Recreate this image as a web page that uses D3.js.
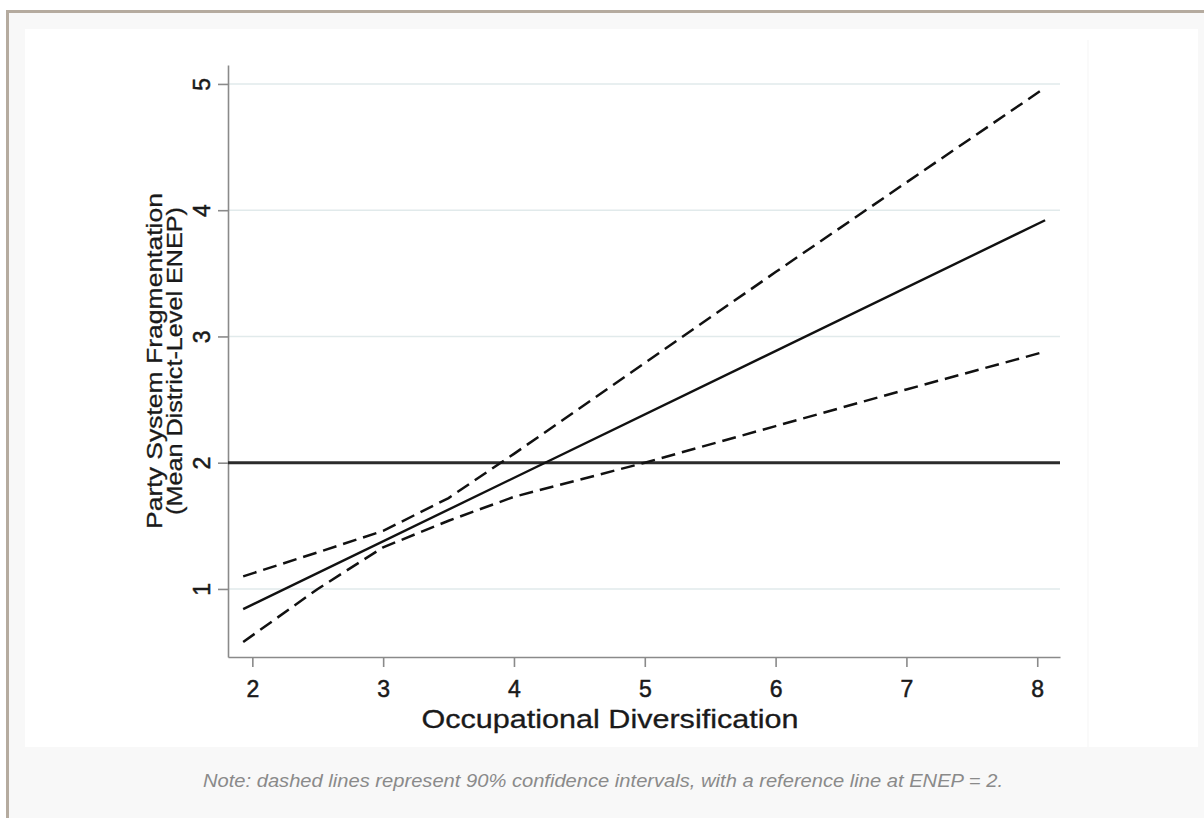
<!DOCTYPE html>
<html>
<head>
<meta charset="utf-8">
<script src="https://cdn.jsdelivr.net/npm/d3@7/dist/d3.min.js"></script>
<style>
  html, body { margin: 0; padding: 0; background: #ffffff; }
  svg { display: block; }
  text { font-family: "Liberation Sans", Arial, Helvetica, sans-serif; }
</style>
</head>
<body>
<svg id="chart" width="1204" height="818"></svg>
<script>
// ---- data ----
const xTicks = [2, 3, 4, 5, 6, 7, 8];
const yTicks = [1, 2, 3, 4, 5];
const predX = [1.93, 8.06];
const predY = [0.84, 3.92];
const ciX = [1.93, 2.5, 3.0, 3.5, 4.0, 5.0, 6.0, 7.0, 8.06];
const ciUpper = [1.10, 1.29, 1.46, 1.72, 2.07, 2.79, 3.51, 4.22, 4.97];
const ciLower = [0.58, 1.00, 1.33, 1.54, 1.73, 2.00, 2.29, 2.58, 2.88];
const refValue = 2;
const xTitle = "Occupational Diversification";
const yTitle1 = "Party System Fragmentation";
const yTitle2 = "(Mean District-Level ENEP)";
const note = "Note: dashed lines represent 90% confidence intervals, with a reference line at ENEP = 2.";

const svg = d3.select("#chart");

// page frame
svg.append("rect").attr("x", 0).attr("y", 0).attr("width", 1204).attr("height", 818).attr("fill", "#ffffff");
svg.append("rect").attr("x", 6).attr("y", 10).attr("width", 1204).attr("height", 820).attr("fill", "#b5ab9f");
svg.append("rect").attr("x", 9).attr("y", 13).attr("width", 1204).attr("height", 820).attr("fill", "#f8f8f8");
svg.append("rect").attr("x", 25).attr("y", 29).attr("width", 1173).attr("height", 718).attr("fill", "#ffffff");
svg.append("line").attr("x1", 1088).attr("x2", 1088).attr("y1", 40).attr("y2", 747)
  .attr("stroke", "#f9f9f9").attr("stroke-width", 1.5);

// scales (domains include the axis padding Stata draws)
const x = d3.scaleLinear().domain([1.814, 8.174]).range([228, 1060]);
const y = d3.scaleLinear().domain([0.461, 5.15]).range([657, 65]);

const g = svg.append("g");

// gridlines
g.selectAll(".grid").data(yTicks).enter().append("line")
  .attr("x1", x.range()[0]).attr("x2", x.range()[1])
  .attr("y1", d => y(d)).attr("y2", d => y(d))
  .attr("stroke", "#e1eaeb").attr("stroke-width", 1.5);

// axes
const axisColor = "#8a8a8a";
const xAxis = g.append("g").attr("transform", `translate(0,${y.range()[0]})`)
  .call(d3.axisBottom(x).tickValues(xTicks).tickSizeOuter(0).tickSizeInner(10).tickFormat(d3.format("d")));
const yAxis = g.append("g").attr("transform", `translate(${x.range()[0]},0)`)
  .call(d3.axisLeft(y).tickValues(yTicks).tickSizeOuter(0).tickSizeInner(10).tickFormat(d3.format("d")));

[xAxis, yAxis].forEach(a => {
  a.select(".domain").attr("stroke", axisColor).attr("stroke-width", 1.6);
  a.selectAll(".tick line").attr("stroke", axisColor).attr("stroke-width", 1.6);
  a.selectAll(".tick text").attr("fill", "#1a1a1a").attr("font-size", 23)
    .attr("stroke", "#1a1a1a").attr("stroke-width", 0.5)
    .attr("font-family", "'Liberation Sans', Arial, sans-serif");
});
xAxis.selectAll(".tick text").attr("y", 0).attr("dy", 0)
  .attr("transform", "translate(0,40)");
yAxis.selectAll(".tick text")
  .attr("x", 0).attr("dy", 0).attr("y", -18)
  .attr("text-anchor", "middle")
  .attr("transform", "rotate(-90)");

// reference line
g.append("line")
  .attr("x1", x.range()[0]).attr("x2", x.range()[1])
  .attr("y1", y(refValue)).attr("y2", y(refValue))
  .attr("stroke", "#2b2b2b").attr("stroke-width", 3);

// lines
const lineGen = d3.line().x(d => x(d[0])).y(d => y(d[1]));
g.append("path").datum(ciX.map((v, i) => [v, ciUpper[i]]))
  .attr("d", lineGen).attr("fill", "none").attr("stroke", "#111")
  .attr("stroke-width", 2.5).attr("stroke-dasharray", "14,7");
g.append("path").datum(ciX.map((v, i) => [v, ciLower[i]]))
  .attr("d", lineGen).attr("fill", "none").attr("stroke", "#111")
  .attr("stroke-width", 2.5).attr("stroke-dasharray", "14,7");
g.append("path").datum(predX.map((v, i) => [v, predY[i]]))
  .attr("d", lineGen).attr("fill", "none").attr("stroke", "#111")
  .attr("stroke-width", 2.4);

// axis titles
svg.append("text").attr("x", 610).attr("y", 728).attr("text-anchor", "middle")
  .attr("font-size", 26).attr("fill", "#1a1a1a").attr("stroke", "#1a1a1a").attr("stroke-width", 0.3)
  .attr("textLength", 377).attr("lengthAdjust", "spacingAndGlyphs")
  .text(xTitle);
svg.append("text").attr("transform", "translate(162,361) rotate(-90)")
  .attr("text-anchor", "middle").attr("font-size", 22).attr("fill", "#1a1a1a")
  .attr("stroke", "#1a1a1a").attr("stroke-width", 0.3)
  .attr("textLength", 336).attr("lengthAdjust", "spacingAndGlyphs")
  .text(yTitle1);
svg.append("text").attr("transform", "translate(182,361) rotate(-90)")
  .attr("text-anchor", "middle").attr("font-size", 22).attr("fill", "#1a1a1a")
  .attr("stroke", "#1a1a1a").attr("stroke-width", 0.3)
  .attr("textLength", 308).attr("lengthAdjust", "spacingAndGlyphs")
  .text(yTitle2);

// note
svg.append("text").attr("x", 603).attr("y", 787).attr("text-anchor", "middle")
  .attr("font-size", 19).attr("font-style", "italic").attr("fill", "#8a8a8a")
  .attr("textLength", 800).attr("lengthAdjust", "spacingAndGlyphs")
  .text(note);
</script>
</body>
</html>
